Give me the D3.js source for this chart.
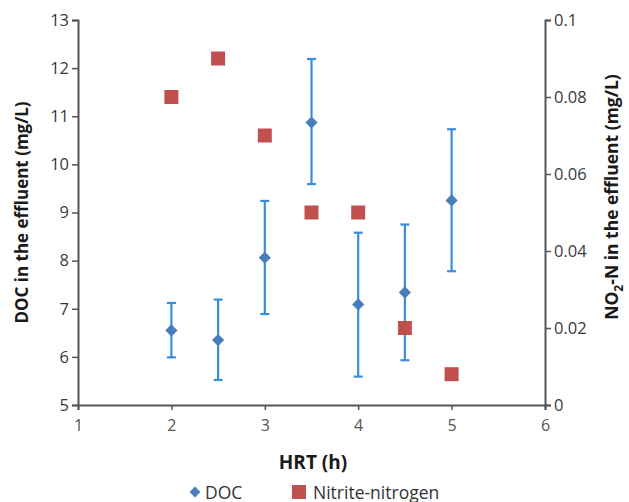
<!DOCTYPE html>
<html>
<head>
<meta charset="utf-8">
<script src="https://cdn.jsdelivr.net/npm/d3@7"></script>
<style>
  body { margin: 0; background: #fff; }
  text { font-family: "Open Sans", "Noto Sans", sans-serif; }
</style>
</head>
<body>
<div id="chart"></div>
<script>
const hrt = [2, 2.5, 3, 3.5, 4, 4.5, 5];
const docMean = [6.55, 6.35, 8.06, 10.87, 7.09, 7.34, 9.25];
const docUpper = [7.12, 7.19, 9.24, 12.19, 8.58, 8.75, 10.73];
const docLower = [5.99, 5.52, 6.89, 9.59, 5.59, 5.93, 7.78];
const nitrite = [0.08, 0.09, 0.07, 0.05, 0.05, 0.02, 0.008];
const xTicks = [1, 2, 3, 4, 5, 6];
const yLeftTicks = [5, 6, 7, 8, 9, 10, 11, 12, 13];
const yRightTicks = [0, 0.02, 0.04, 0.06, 0.08, 0.1];

const width = 629, height = 502;
const margin = { top: 20, bottom: 97, left: 78, right: 84 };

const svg = d3.select('#chart').append('svg')
  .attr('width', width)
  .attr('height', height);

const x = d3.scaleLinear().domain([1, 6]).range([margin.left, width - margin.right]);
const yL = d3.scaleLinear().domain([5, 13]).range([height - margin.bottom, margin.top]);
const yR = d3.scaleLinear().domain([0, 0.1]).range([height - margin.bottom, margin.top]);

const axisColor = '#555';
const labelColor = '#3a3a3a';

// x axis
const gx = svg.append('g')
  .attr('transform', `translate(0,${height - margin.bottom})`)
  .call(d3.axisBottom(x).tickValues(xTicks).tickSize(5).tickFormat(d3.format('d')));
gx.select('.domain').attr('stroke', axisColor).attr('stroke-width', 2);
gx.selectAll('.tick line').attr('stroke', axisColor).attr('stroke-width', 1.5);
gx.selectAll('.tick text')
  .attr('fill', '#555')
  .attr('font-size', 16)
  .attr('font-family', '"DejaVu Serif", serif')
  .attr('dy', '1.15em');

// left y axis
const gyl = svg.append('g')
  .attr('transform', `translate(${margin.left},0)`)
  .call(d3.axisLeft(yL).tickValues(yLeftTicks).tickSize(6).tickFormat(d3.format('d')));
gyl.select('.domain').attr('stroke', axisColor).attr('stroke-width', 2);
gyl.selectAll('.tick line').attr('stroke', axisColor).attr('stroke-width', 1.5);
gyl.selectAll('.tick text').attr('fill', labelColor).attr('font-size', 16.5);

// right y axis
const gyr = svg.append('g')
  .attr('transform', `translate(${width - margin.right},0)`)
  .call(d3.axisRight(yR).tickValues(yRightTicks).tickSize(6).tickFormat(d => d === 0 ? '0' : String(+d.toFixed(2))));
gyr.select('.domain').attr('stroke', axisColor).attr('stroke-width', 2);
gyr.selectAll('.tick line').attr('stroke', axisColor).attr('stroke-width', 1.5);
gyr.selectAll('.tick text').attr('fill', labelColor).attr('font-size', 16.5);

// error bars
const errColor = '#3a8ddd';
const err = svg.append('g').attr('stroke', errColor).attr('stroke-width', 2.2);
hrt.forEach((h, i) => {
  err.append('line')
    .attr('x1', x(h)).attr('x2', x(h))
    .attr('y1', yL(docUpper[i])).attr('y2', yL(docLower[i]));
  [docUpper[i], docLower[i]].forEach(v => {
    err.append('line')
      .attr('x1', x(h) - 4.5).attr('x2', x(h) + 4.5)
      .attr('y1', yL(v)).attr('y2', yL(v));
  });
});

// DOC diamonds
svg.append('g')
  .selectAll('path')
  .data(hrt)
  .join('path')
  .attr('d', d3.symbol(d3.symbolDiamond2, 95))
  .attr('transform', (d, i) => `translate(${x(d)},${yL(docMean[i])})`)
  .attr('fill', '#4a7ebb');

// nitrite squares
svg.append('g')
  .selectAll('rect')
  .data(hrt)
  .join('rect')
  .attr('x', d => x(d) - 7)
  .attr('y', (d, i) => yR(nitrite[i]) - 7)
  .attr('width', 14)
  .attr('height', 14)
  .attr('fill', '#c0504d');

// axis titles
svg.append('text')
  .attr('transform', `translate(28,${(margin.top + height - margin.bottom) / 2}) rotate(-90)`)
  .attr('text-anchor', 'middle')
  .attr('font-size', 17)
  .attr('font-weight', 'bold')
  .attr('fill', '#1a1a1a')
  .text('DOC in the effluent (mg/L)');

const rt = svg.append('text')
  .attr('transform', `translate(618,197) rotate(-90)`)
  .attr('text-anchor', 'middle')
  .attr('font-size', 17.5)
  .attr('font-weight', 'bold')
  .attr('fill', '#1a1a1a');
rt.append('tspan').text('NO');
rt.append('tspan').attr('font-size', 12).attr('dy', 5).text('2');
rt.append('tspan').attr('dy', -5).text('-N in the effluent (mg/L)');

svg.append('text')
  .attr('x', 313)
  .attr('y', 469)
  .attr('text-anchor', 'middle')
  .attr('font-size', 19)
  .attr('font-weight', 'bold')
  .attr('fill', '#1a1a1a')
  .text('HRT (h)');

// legend
const legend = svg.append('g').attr('transform', 'translate(0,492)');
legend.append('path')
  .attr('d', d3.symbol(d3.symbolDiamond2, 75))
  .attr('transform', 'translate(195,0)')
  .attr('fill', '#4a7ebb');
legend.append('text')
  .attr('x', 205).attr('y', 6.5)
  .attr('font-size', 17.5).attr('fill', '#333')
  .text('DOC');
legend.append('rect')
  .attr('x', 292).attr('y', -7).attr('width', 14).attr('height', 14)
  .attr('fill', '#c0504d');
legend.append('text')
  .attr('x', 313).attr('y', 6.5)
  .attr('font-size', 17.5).attr('fill', '#333')
  .text('Nitrite-nitrogen');
</script>
</body>
</html>
